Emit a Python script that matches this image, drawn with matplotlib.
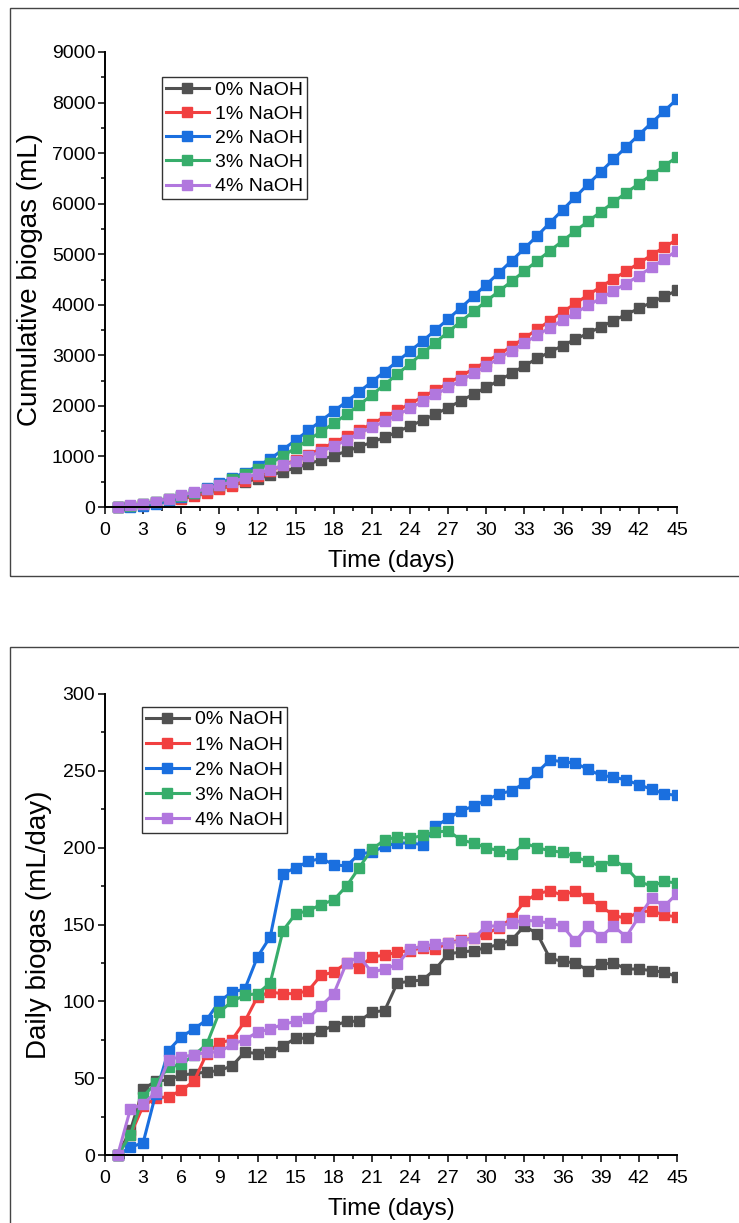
import matplotlib
matplotlib.use('Agg')
import matplotlib.pyplot as plt
from matplotlib.ticker import MultipleLocator
from matplotlib.patches import Rectangle

plt.rcParams['font.family'] = ['Liberation Sans', 'DejaVu Sans']

days = list(range(1, 46))
series_labels = ['0% NaOH', '1% NaOH', '2% NaOH', '3% NaOH', '4% NaOH']
colors = ['#515151', '#F14040', '#1A6FDF', '#37AD6B', '#B177DE']

# Cumulative biogas (mL)
cum_0 = [0, 16, 59, 107, 156, 208, 261, 315, 370, 428, 495, 561, 628, 699, 775,
         851, 932, 1016, 1103, 1190, 1283, 1377, 1489, 1602, 1716, 1837, 1968, 2100,
         2233, 2368, 2505, 2645, 2794, 2938, 3066, 3192, 3317, 3437, 3561, 3686, 3807,
         3928, 4048, 4167, 4283]
cum_1 = [0, 13, 45, 82, 120, 162, 210, 276, 349, 424, 511, 614, 720, 825, 930,
         1037, 1154, 1273, 1398, 1520, 1649, 1779, 1911, 2044, 2179, 2313, 2451, 2591,
         2732, 2876, 3024, 3178, 3343, 3513, 3685, 3854, 4026, 4193, 4355, 4511, 4665,
         4823, 4982, 5138, 5293]
cum_2 = [0, 5, 13, 53, 121, 198, 280, 368, 468, 574, 682, 811, 953, 1136, 1323,
         1514, 1707, 1896, 2084, 2280, 2477, 2678, 2881, 3084, 3286, 3500, 3719, 3943,
         4170, 4401, 4636, 4873, 5115, 5364, 5621, 5877, 6132, 6383, 6630, 6876, 7120,
         7361, 7599, 7834, 8068]
cum_3 = [0, 13, 51, 98, 155, 214, 279, 351, 444, 544, 648, 753, 865, 1011, 1168,
         1327, 1490, 1656, 1831, 2018, 2217, 2422, 2629, 2835, 3043, 3253, 3464, 3669,
         3872, 4072, 4270, 4466, 4669, 4869, 5067, 5264, 5458, 5649, 5837, 6029, 6216,
         6394, 6569, 6747, 6924]
cum_4 = [0, 30, 63, 104, 166, 230, 295, 362, 429, 501, 576, 656, 738, 823, 910,
         999, 1096, 1201, 1326, 1455, 1574, 1695, 1819, 1953, 2089, 2226, 2364, 2503,
         2644, 2793, 2942, 3093, 3246, 3398, 3549, 3698, 3837, 3986, 4128, 4277, 4419,
         4574, 4741, 4903, 5073]

# Daily biogas (mL/day)
daily_0 = [0, 16, 43, 48, 49, 52, 53, 54, 55, 58, 67, 66, 67, 71, 76, 76, 81, 84, 87,
           87, 93, 94, 112, 113, 114, 121, 131, 132, 133, 135, 137, 140, 149, 144, 128,
           126, 125, 120, 124, 125, 121, 121, 120, 119, 116]
daily_1 = [0, 13, 32, 37, 38, 42, 48, 66, 73, 75, 87, 103, 106, 105, 105, 107, 117, 119,
           125, 122, 129, 130, 132, 133, 135, 134, 138, 140, 141, 144, 148, 154, 165, 170,
           172, 169, 172, 167, 162, 156, 154, 158, 159, 156, 155]
daily_2 = [0, 5, 8, 40, 68, 77, 82, 88, 100, 106, 108, 129, 142, 183, 187, 191, 193, 189,
           188, 196, 197, 201, 203, 203, 202, 214, 219, 224, 227, 231, 235, 237, 242, 249,
           257, 256, 255, 251, 247, 246, 244, 241, 238, 235, 234]
daily_3 = [0, 13, 38, 47, 57, 59, 65, 72, 93, 100, 104, 105, 112, 146, 157, 159, 163, 166,
           175, 187, 199, 205, 207, 206, 208, 210, 211, 205, 203, 200, 198, 196, 203, 200,
           198, 197, 194, 191, 188, 192, 187, 178, 175, 178, 177]
daily_4 = [0, 30, 33, 41, 62, 64, 65, 67, 67, 72, 75, 80, 82, 85, 87, 89, 97, 105, 125,
           129, 119, 121, 124, 134, 136, 137, 138, 139, 141, 149, 149, 151, 153, 152, 151,
           149, 139, 149, 142, 149, 142, 155, 167, 162, 170]

cum_series = [cum_0, cum_1, cum_2, cum_3, cum_4]
daily_series = [daily_0, daily_1, daily_2, daily_3, daily_4]

W, H = 739, 1223
fig = plt.figure(figsize=(W / 100, H / 100), dpi=100)

# panel frames
fig.patches.append(Rectangle((10 / W, 1 - 576 / H), 1.0, (576 - 8) / H,
                             transform=fig.transFigure, fill=False,
                             edgecolor='#444444', linewidth=1.0))
fig.patches.append(Rectangle((10 / W, -0.05), 1.0, 0.05 + (1 - 647 / H),
                             transform=fig.transFigure, fill=False,
                             edgecolor='#444444', linewidth=1.0))

x0, x1 = 105, 677
ax1 = fig.add_axes([x0 / W, 1 - 507 / H, (x1 - x0) / W, (507 - 52) / H])
ax2 = fig.add_axes([x0 / W, 1 - 1155 / H, (x1 - x0) / W, (1155 - 694) / H])


def style(ax, ymax, ymaj, ymin, ylabel, lx):
    ax.set_xlim(0, 45)
    ax.set_ylim(0, ymax)
    ax.xaxis.set_major_locator(MultipleLocator(3))
    ax.xaxis.set_minor_locator(MultipleLocator(1.5))
    ax.yaxis.set_major_locator(MultipleLocator(ymaj))
    ax.yaxis.set_minor_locator(MultipleLocator(ymin))
    for s in ['top', 'right']:
        ax.spines[s].set_visible(False)
    for s in ['left', 'bottom']:
        ax.spines[s].set_linewidth(1.4)
    ax.tick_params(which='major', direction='out', length=5, width=1.1,
                   labelsize=14)
    ax.tick_params(axis='x', which='major', pad=6)
    ax.tick_params(axis='y', which='major', pad=2)
    ax.tick_params(which='minor', direction='out', length=3, width=1.1)
    ax.set_xlabel('Time (days)', fontsize=17.5, labelpad=8)
    ax.set_ylabel(ylabel, fontsize=20)
    ax.yaxis.set_label_coords(lx, 0.5)


def draw(ax, series):
    clip = Rectangle((-0.05, -0.05), 1.05, 1.1, transform=ax.transAxes)
    for vals, lab, c in zip(series, series_labels, colors):
        ln, = ax.plot(days, vals, color=c, lw=2.2, marker='s', ms=7.5,
                      mec=c, mfc=c, label=lab)
        ln.set_clip_path(clip)


draw(ax1, cum_series)
style(ax1, 9000, 1000, 500, 'Cumulative biogas (mL)', -0.108)
leg1 = ax1.legend(loc='upper left', bbox_to_anchor=(0.0997, 0.945),
                  borderaxespad=0, fontsize=14, frameon=True, fancybox=False,
                  edgecolor='black', handlelength=2.2, handletextpad=0.3,
                  borderpad=0.2, labelspacing=0.34, numpoints=1)
leg1.get_frame().set_linewidth(1.0)

draw(ax2, daily_series)
style(ax2, 300, 50, 25, 'Daily biogas (mL/day)', -0.092)
leg2 = ax2.legend(loc='upper left', bbox_to_anchor=(0.0647, 0.972),
                  borderaxespad=0, fontsize=14, frameon=True, fancybox=False,
                  edgecolor='black', handlelength=2.2, handletextpad=0.3,
                  borderpad=0.2, labelspacing=0.39, numpoints=1)
leg2.get_frame().set_linewidth(1.0)

fig.savefig('out.png', dpi=100)
